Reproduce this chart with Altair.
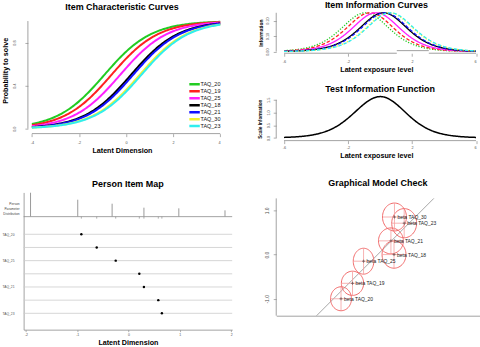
import numpy as np
import pandas as pd
import altair as alt

FONT = "Liberation Sans"
AX = "#8c8c8c"
LAB = "#505050"

# ---------------- values ----------------
items = ["TAQ_20", "TAQ_19", "TAQ_25", "TAQ_18", "TAQ_21", "TAQ_30", "TAQ_23"]
item_colors = ["#22cc22", "#ff2020", "#ff20ff", "#000000", "#1010ff", "#f2f230", "#30eeee"]
item_dash = [[1.2, 1.6], [3.5, 2], [1, 0], [1, 0], [3.5, 2], [1.2, 1.6], [3.5, 2]]
difficulty = [-0.92, -0.62, -0.25, 0.21, 0.30, 0.58, 0.65]

person_location = [-1.91, -0.99, -0.32, 0.30, 0.98, 1.88]
person_frequency = [72, 51, 39, 27, 25, 19]

gmc_beta_x = [-0.83, -0.57, -0.32, 0.37, 0.30, 0.38, 0.60]
gmc_beta_y = [-1.00, -0.65, -0.15, 0.00, 0.31, 0.85, 0.71]
gmc_ci_x = [0.237, 0.252, 0.233, 0.271, 0.282, 0.271, 0.282]
gmc_ci_y = [0.271, 0.274, 0.293, 0.308, 0.293, 0.316, 0.330]

icc_ticks = [-4, -2, 0, 2, 4]
icc_yticks = [0, 0.2, 0.4, 0.6, 0.8, 1.0]
info_ticks = [-6, -4, -2, 0, 2, 4, 6]
iic_yticks = [0, 0.05, 0.1, 0.15, 0.2, 0.25]
tif_yticks = [0, 0.5, 1.0, 1.5]
pim_ticks = [-2, -1, 0, 1, 2]
gmc_yticks = [-1, -0.5, 0, 0.5, 1]

# ---------------- tables (Rasch model curves from the item difficulties) ----------------
theta_icc = np.round(np.arange(-4, 4.0001, 0.05), 3)
theta_inf = np.round(np.arange(-6, 6.0001, 0.05), 3)
rows_icc, rows_inf = [], []
for it, b in zip(items, difficulty):
    p = 1 / (1 + np.exp(-(theta_icc - b)))
    rows_icc += [{"item": it, "theta": float(t), "p": float(v)} for t, v in zip(theta_icc, p)]
    q = 1 / (1 + np.exp(-(theta_inf - b)))
    rows_inf += [{"item": it, "theta": float(t), "info": float(v * (1 - v))} for t, v in zip(theta_inf, q)]
icc_df = pd.DataFrame(rows_icc)
inf_df = pd.DataFrame(rows_inf)
tif_df = inf_df.groupby("theta", as_index=False)["info"].sum()

items_df = pd.DataFrame({"item": items, "k": list(range(len(items))), "loc": difficulty})
person_df = pd.DataFrame({"loc": person_location, "freq": person_frequency})
gmc_df = pd.DataFrame({"item": items, "gx": gmc_beta_x, "gy": gmc_beta_y,
                       "rx": gmc_ci_x, "ry": gmc_ci_y})
ang = np.deg2rad(np.arange(0, 361, 6))
ell_rows = []
for it, cx, cy, rx, ry in zip(items, gmc_beta_x, gmc_beta_y, gmc_ci_x, gmc_ci_y):
    for j, a in enumerate(ang):
        ell_rows.append({"item": it, "j": j, "ex": cx + rx * np.cos(a), "ey": cy + ry * np.sin(a)})
ell_df = pd.DataFrame(ell_rows)

ONE = pd.DataFrame({"o": [0]})

INT_LAB = "datum.value < 0 ? '-' + format(-datum.value, 'd') : format(datum.value, 'd')"
F1_LAB = "datum.value < 0 ? '-' + format(-datum.value, '.1f') : format(datum.value, '.1f')"
F2_LAB = "abs(datum.value * 10 - round(datum.value * 10)) < 0.001 ? format(datum.value, '.2f') : ''"


def seg(x, y, x2=None, y2=None, color=AX, w=0.8):
    enc = {"x": alt.datum(x), "y": alt.datum(y)}
    if x2 is not None:
        enc["x2"] = alt.datum(x2)
    if y2 is not None:
        enc["y2"] = alt.datum(y2)
    return alt.Chart(ONE).mark_rule(color=color, strokeWidth=w).encode(**enc)


def ttl(text, offset):
    return alt.TitleParams(text=text, font=FONT, fontSize=9, fontWeight="bold", color="black",
                           anchor="middle", frame="group", offset=offset)


# ---------------- Item Characteristic Curves ----------------
icc_xd = [-4.351, 4.0]
icc_yd = [0.0, 1.0833]
icc_lines = alt.Chart(icc_df).mark_line(strokeWidth=2).encode(
    x=alt.X("theta:Q", scale=alt.Scale(domain=icc_xd, nice=False, zero=False),
            axis=alt.Axis(values=icc_ticks, labelExpr=INT_LAB, domain=False, offset=5, tickSize=3,
                          labelFontSize=3.8, labelPadding=4.2, title="Latent Dimension",
                          titleFontSize=7.2, titlePadding=2.2)),
    y=alt.Y("p:Q", scale=alt.Scale(domain=icc_yd, nice=False, zero=False),
            axis=alt.Axis(values=icc_yticks, labelExpr=F1_LAB, domain=False, offset=-4.3, tickSize=3,
                          labelAngle=270, labelAlign="center", labelBaseline="bottom",
                          labelFontSize=3.8, labelPadding=8, title="Probability to solve",
                          titleFontSize=7.2, titlePadding=3.5)),
    color=alt.Color("item:N", scale=alt.Scale(domain=items, range=item_colors),
                    legend=alt.Legend(orient="none", legendX=166.3, legendY=69, title=None,
                                      symbolType="M-3.5,0H3.5", symbolSize=16, symbolStrokeWidth=2.5,
                                      labelFontSize=5.5, labelFont=FONT, labelColor="#111111",
                                      labelOffset=4.2, rowPadding=0, clipHeight=6.9, padding=0)),
)
icc = alt.layer(
    icc_lines,
    seg(-4, -0.046, x2=4),
    seg(-4.169, 0, y2=1),
).properties(width=197.3, height=117, title=ttl("Item Characteristic Curves", 0))

# ---------------- Item Information Curves + Test Information Function (one cell) ----------------
R_W, R_H = 201, 129
inf_xd = [-6.486, 6.031]
iic_yd = [-0.0103, 0.2545]
iic_range = [41.3, 0]
tif_yd = [-0.106, 1.618]
tif_range = [129, 85]

iic_lines = alt.Chart(inf_df).mark_line(strokeWidth=1.3).encode(
    x=alt.X("theta:Q", scale=alt.Scale(domain=inf_xd, nice=False, zero=False),
            axis=alt.Axis(orient="bottom", offset=41.3 - R_H, values=info_ticks, labelExpr=INT_LAB,
                          domain=False, tickSize=3, labelFontSize=3.8, labelPadding=3.5,
                          title="Latent exposure level", titleFontSize=7.2, titlePadding=1.8)),
    y=alt.Y("info:Q", scale=alt.Scale(domain=iic_yd, range=iic_range, nice=False, zero=False),
            axis=alt.Axis(orient="left", values=iic_yticks, labelExpr=F2_LAB, domain=False, tickSize=3,
                          labelAngle=270, labelAlign="center", labelBaseline="bottom",
                          labelFontSize=3.8, labelPadding=3.6, title="Information",
                          titleFontSize=5, titlePadding=2.6)),
    color=alt.Color("item:N", scale=alt.Scale(domain=items, range=item_colors), legend=None),
    strokeDash=alt.StrokeDash("item:N", scale=alt.Scale(domain=items, range=item_dash), legend=None),
)
iic_layer = alt.layer(
    iic_lines,
    seg(-6, -0.0103, x2=1.05, color="#a0a0a0", w=1),
    seg(1.05, 0.0064, x2=3.05, color="#a0a0a0", w=1),
    seg(3.05, -0.0103, x2=6, color="#a0a0a0", w=1),
    seg(-6.486, 0, y2=0.25),
)

tif_line = alt.Chart(tif_df).mark_line(color="black", strokeWidth=1.5).encode(
    x=alt.X("theta:Q", scale=alt.Scale(domain=inf_xd, nice=False, zero=False),
            axis=alt.Axis(orient="bottom", values=info_ticks, labelExpr=INT_LAB, domain=False,
                          tickSize=3, labelFontSize=3.8, labelPadding=2.4,
                          title="Latent exposure level", titleFontSize=7.2, titlePadding=2.2)),
    y=alt.Y("info:Q", scale=alt.Scale(domain=tif_yd, range=tif_range, nice=False, zero=False),
            axis=alt.Axis(orient="left", values=tif_yticks, labelExpr=F1_LAB, domain=False, tickSize=3,
                          labelAngle=270, labelAlign="center", labelBaseline="bottom",
                          labelFontSize=3.8, labelPadding=2.9, title="Scale Information",
                          titleFontSize=4.7, titlePadding=3.4)),
)
tif_title = alt.Chart(ONE).mark_text(
    text="Test Information Function", fontSize=9, fontWeight="bold", font=FONT,
    color="black", baseline="middle", align="center"
).encode(x=alt.datum(0), y=alt.datum(1.93))
tif_layer = alt.layer(
    tif_line,
    seg(-6, -0.106, x2=6),
    seg(-6.486, 0, y2=1.5),
    tif_title,
)
info_cell = alt.layer(iic_layer, tif_layer).resolve_scale(
    x="independent", y="independent"
).properties(width=R_W, height=R_H, title=ttl("Item Information Curves", 0))

# ---------------- Person Item Map ----------------
pim_xd = [-2.045, 2.02]
pim_yd = [-3.177, 7.239]
k_base = -1.339
freq_unit = 0.02521
name_expr = "[" + ",".join("'%s'" % s for s in items) + "][round(datum.value)]"
pim_rows = alt.Chart(items_df).mark_rule(color="#cccccc", strokeWidth=0.8).encode(
    x=alt.datum(pim_xd[0]), x2=alt.datum(pim_xd[1]),
    y=alt.Y("k:Q", scale=alt.Scale(domain=pim_yd, reverse=True, nice=False, zero=False)),
)
pim_bars = alt.Chart(person_df).transform_calculate(
    base=str(k_base), top="%f - datum.freq * %f" % (k_base, freq_unit)
).mark_rule(color="#9a9a9a", strokeWidth=1).encode(x="loc:Q", y="base:Q", y2="top:Q")
pim_marks = alt.Chart(items_df).transform_calculate(
    base=str(k_base), low="%f + 0.15" % k_base
).mark_rule(color="#8a8a8a", strokeWidth=0.7).encode(x="loc:Q", y="base:Q", y2="low:Q")
pim_dots = alt.Chart(items_df).mark_circle(color="black", size=6, opacity=1).encode(
    x=alt.X("loc:Q", scale=alt.Scale(domain=pim_xd, nice=False, zero=False),
            axis=alt.Axis(values=pim_ticks, labelExpr=INT_LAB, tickSize=2, labelFontSize=3.5,
                          labelPadding=0.8, title="Latent Dimension", titleFontSize=7.2,
                          titlePadding=2.4)),
    y=alt.Y("k:Q", scale=alt.Scale(domain=pim_yd, reverse=True, nice=False, zero=False),
            axis=alt.Axis(values=list(range(len(items))), labelExpr=name_expr, ticks=False,
                          labelFontSize=3.3, labelPadding=9.7, title=None)),
)
pim_text = alt.Chart(ONE).mark_text(
    text=["Person", "Parameter", "Distribution"], align="right", baseline="middle",
    fontSize=3.3, lineHeight=5, color="#444444", font=FONT
).encode(x=alt.datum(-2.122), y=alt.datum(-2.27))
pim = alt.layer(
    pim_rows, seg(pim_xd[0], k_base, x2=pim_xd[1]), pim_bars, pim_marks, pim_dots, pim_text
).properties(width=209.3, height=137.7, title=ttl("Person Item Map", 3.5))

# ---------------- Graphical Model Check ----------------
gmc_xd = [-2.297, 2.305]
gmc_yd = [-1.383, 1.406]
gx_scale = alt.Scale(domain=gmc_xd, nice=False, zero=False)
gy_scale = alt.Scale(domain=gmc_yd, nice=False, zero=False)
diag_df = pd.DataFrame({"v": [-1.383, 1.271]})
gmc_diag = alt.Chart(diag_df).mark_line(color="#909090", strokeWidth=0.8).encode(
    x=alt.X("v:Q", scale=gx_scale,
            axis=alt.Axis(ticks=False, labels=False, title=None)),
    y=alt.Y("v:Q", scale=gy_scale,
            axis=alt.Axis(values=gmc_yticks, labelExpr=F1_LAB, tickSize=3, labelAngle=270,
                          domain=False, labelAlign="center", labelBaseline="bottom", labelFontSize=5,
                          labelPadding=3.3, title=None)),
)
gmc_ell = alt.Chart(ell_df).mark_line(color="#f06a6a", strokeWidth=1).encode(
    x="ex:Q", y="ey:Q", detail="item:N", order="j:Q")
gmc_h = alt.Chart(gmc_df).transform_calculate(
    xa="datum.gx - datum.rx", xb="datum.gx + datum.rx"
).mark_rule(color="#f5a0a0", strokeWidth=0.8).encode(x="xa:Q", x2="xb:Q", y="gy:Q")
gmc_v = alt.Chart(gmc_df).transform_calculate(
    ya="datum.gy - datum.ry", yb="datum.gy + datum.ry"
).mark_rule(color="#f5a0a0", strokeWidth=0.8).encode(x="gx:Q", y="ya:Q", y2="yb:Q")
gmc_pts = alt.Chart(gmc_df).mark_point(shape="M-1,0H1M0,-1V1", size=9, filled=False,
                                       color="#333333", strokeWidth=0.8).encode(x="gx:Q", y="gy:Q")
gmc_lab = alt.Chart(gmc_df).transform_calculate(label="'beta ' + datum.item").mark_text(
    align="left", baseline="middle", dx=3, fontSize=5, color="#222222", font=FONT
).encode(x="gx:Q", y="gy:Q", text="label:N")
gmc = alt.layer(
    gmc_diag, seg(gmc_xd[0], -1.383, y2=1.271), gmc_ell, gmc_h, gmc_v, gmc_pts, gmc_lab
).properties(width=204, height=123.7, title=ttl("Graphical Model Check", 4.2))

# ---------------- layout ----------------
chart = alt.concat(
    icc, info_cell, pim, gmc, columns=2, bounds="flush",
    spacing={"row": 52, "column": 43.5}
).resolve_scale(color="independent", strokeDash="independent").resolve_legend(color="independent")

chart = chart.properties(
    padding={"left": 0.7, "top": 0.5, "right": 0, "bottom": 0}, background="white"
).configure_view(stroke=None).configure_axis(
    labelFont=FONT, titleFont=FONT, labelColor=LAB, tickColor=AX, domainColor=AX,
    grid=False, titleFontWeight="bold", titleColor="black", tickWidth=0.7, domainWidth=0.8
).configure_title(font=FONT)

chart.save("out.html", embed_options={"renderer": "svg", "actions": False})
